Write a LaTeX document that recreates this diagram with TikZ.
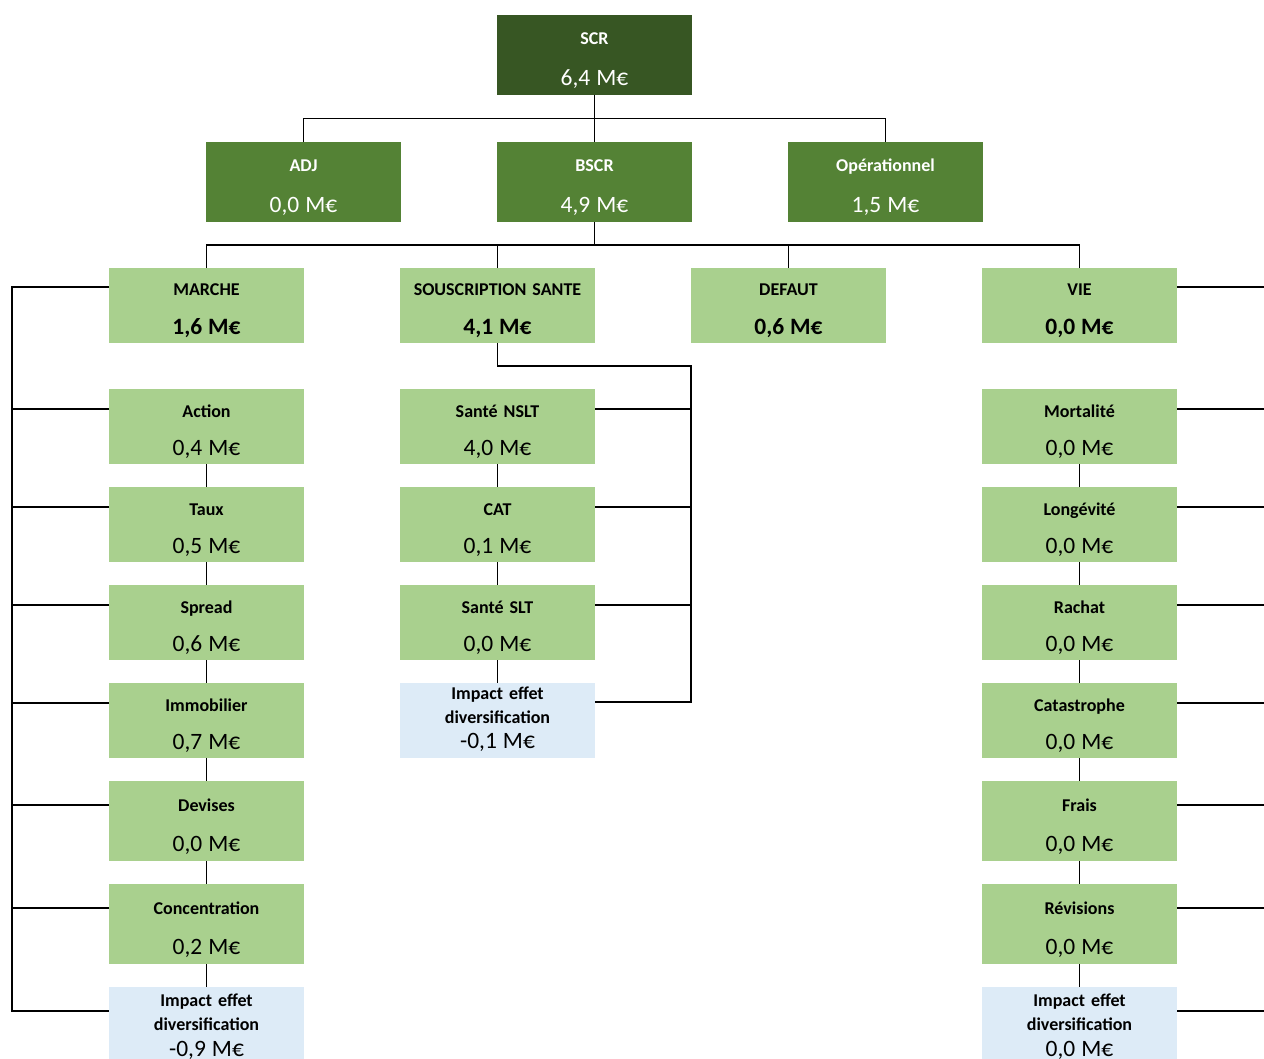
\documentclass[tikz,border=0pt]{standalone}
\usepackage{fontspec}
\setmainfont{Carlito}
\usetikzlibrary{positioning, calc}
\definecolor{scrgreen}{HTML}{375623}
\definecolor{midgreen}{HTML}{548235}
\definecolor{lightgreen}{HTML}{A9D08E}
\definecolor{divblue}{HTML}{DDEBF7}
\newcommand{\amount}[1]{{\fontsize{17.6}{20}\selectfont #1}}

\begin{document}
\begin{tikzpicture}[x=0.75pt, y=-0.75pt, node distance=17.25pt and 72pt,
    line width=1pt,
    box/.style={inner sep=0pt, outer sep=0pt, text width=146.25pt,
                align=center, font=\fontsize{13.5}{#1}\selectfont},
    topbox/.style={box=30.4pt, text height=22.5pt, text depth=37.5pt,
                   fill=midgreen, text=white},
    riskbox/.style={box=28.9pt, text height=21pt, text depth=35.25pt,
                    fill=lightgreen},
    tallbox/.style={topbox, fill=lightgreen, text=black},
    divbox/.style 2 args={box=18pt, text height=#1, text depth=#2,
                          fill=divblue}]
  \useasboundingbox (0,0) rectangle (1264,1059);

  % SCR and its split
  \node[topbox, fill=scrgreen, anchor=north] (scr) at (594.5,15)
    {\textbf{SCR}\\\amount{6,4 M€}};
  \node[topbox, below=35.25pt of scr] (bscr) {\textbf{BSCR}\\\amount{4,9 M€}};
  \node[topbox, left=of bscr] (adj) {\textbf{ADJ}\\\amount{0,0 M€}};
  \node[topbox, right=of bscr] (ope) {\textbf{Opérationnel}\\\amount{1,5 M€}};

  % modules
  \node[riskbox, anchor=north] (marche) at (206.5,268)
    {\textbf{MARCHE}\\\amount{\textbf{1,6 M€}}};
  \node[riskbox, right=of marche] (sante)
    {\textbf{SOUSCRIPTION SANTE}\\\amount{\textbf{4,1 M€}}};
  \node[riskbox, right=of sante] (defaut)
    {\textbf{DEFAUT}\\\amount{\textbf{0,6 M€}}};
  \node[riskbox, right=of defaut] (vie)
    {\textbf{VIE}\\\amount{\textbf{0,0 M€}}};

  % marche
  \node[riskbox, below=34.5pt of marche] (action) {\textbf{Action}\\\amount{0,4 M€}};
  \node[riskbox, below=of action] (taux) {\textbf{Taux}\\\amount{0,5 M€}};
  \node[riskbox, below=of taux] (spread) {\textbf{Spread}\\\amount{0,6 M€}};
  \node[riskbox, below=of spread] (immo) {\textbf{Immobilier}\\\amount{0,7 M€}};
  \node[tallbox, below=of immo] (devises) {\textbf{Devises}\\\amount{0,0 M€}};
  \node[tallbox, below=of devises] (concentration)
    {\textbf{Concentration}\\\amount{0,2 M€}};
  \node[divbox={14.25pt}{45.75pt}, below=of concentration] (divm)
    {\textbf{Impact effet}\\\textbf{diversification}\\[1.5pt]\amount{-0,9 M€}};

  % sante
  \node[riskbox, below=34.5pt of sante] (nslt) {\textbf{Santé NSLT}\\\amount{4,0 M€}};
  \node[riskbox, below=of nslt] (cat) {\textbf{CAT}\\\amount{0,1 M€}};
  \node[riskbox, below=of cat] (slt) {\textbf{Santé SLT}\\\amount{0,0 M€}};
  \node[divbox={12pt}{44.25pt}, below=of slt] (divs)
    {\textbf{Impact effet}\\\textbf{diversification}\\[0.75pt]\amount{-0,1 M€}};

  % vie
  \node[riskbox, below=34.5pt of vie] (mortalite) {\textbf{Mortalité}\\\amount{0,0 M€}};
  \node[riskbox, below=of mortalite] (longevite) {\textbf{Longévité}\\\amount{0,0 M€}};
  \node[riskbox, below=of longevite] (rachat) {\textbf{Rachat}\\\amount{0,0 M€}};
  \node[riskbox, below=of rachat] (catastrophe) {\textbf{Catastrophe}\\\amount{0,0 M€}};
  \node[tallbox, below=of catastrophe] (frais) {\textbf{Frais}\\\amount{0,0 M€}};
  \node[tallbox, below=of frais] (revisions) {\textbf{Révisions}\\\amount{0,0 M€}};
  \node[divbox={14.25pt}{45.75pt}, below=of revisions] (divv)
    {\textbf{Impact effet}\\\textbf{diversification}\\[1.5pt]\amount{0,0 M€}};

  % tree lines
  \coordinate (bus1) at ($(scr.south)!.5!(bscr.north)$);
  \draw (scr) -- (bscr);
  \draw (adj.north) |- (bus1) -| (ope.north);

  \coordinate (bus2) at ($(bscr.south)!.5!(bscr.south |- marche.north)$);
  \draw (bscr.south) -- (bus2);
  \draw (marche.north) |- (bus2) -| (vie.north);
  \foreach \n in {sante, defaut}
    \draw (\n.north) -- (\n.north |- bus2);

  \foreach \a/\b in {action/taux, taux/spread, spread/immo, immo/devises,
                     devises/concentration, concentration/divm,
                     nslt/cat, cat/slt, slt/divs,
                     mortalite/longevite, longevite/rachat, rachat/catastrophe,
                     catastrophe/frais, frais/revisions, revisions/divv}
    \draw (\a) -- (\b);

  % side brackets
  \foreach \n/\d in {marche/19, action/20, taux/20, spread/20, immo/20,
                     devises/24, concentration/24, divm/24}
    \coordinate (\n-in) at ([yshift=-\d*0.75pt]\n.north west);
  \foreach \n/\d in {nslt/20, cat/20, slt/20, divs/19,
                     vie/19, mortalite/20, longevite/20, rachat/20,
                     catastrophe/20, frais/24, revisions/24, divv/24}
    \coordinate (\n-in) at ([yshift=-\d*0.75pt]\n.north east);

  \coordinate (mrail) at (12,0);
  \draw (marche-in) -| (mrail |- divm-in) -- (divm-in);
  \foreach \n in {action, taux, spread, immo, devises, concentration}
    \draw (\n-in) -- (\n-in -| mrail);

  \coordinate (smid) at ($(sante.south)!.5!(nslt.north)$);
  \draw (sante.south) -- (smid) -| (divs-in -| defaut.west) -- (divs-in);
  \foreach \n in {nslt, cat, slt}
    \draw (\n-in) -- (\n-in -| defaut.west);

  \coordinate (vrail) at (1264,0);
  \foreach \n in {vie, mortalite, longevite, rachat, catastrophe, frais,
                  revisions, divv}
    \draw (\n-in) -- (\n-in -| vrail);
\end{tikzpicture}
\end{document}
